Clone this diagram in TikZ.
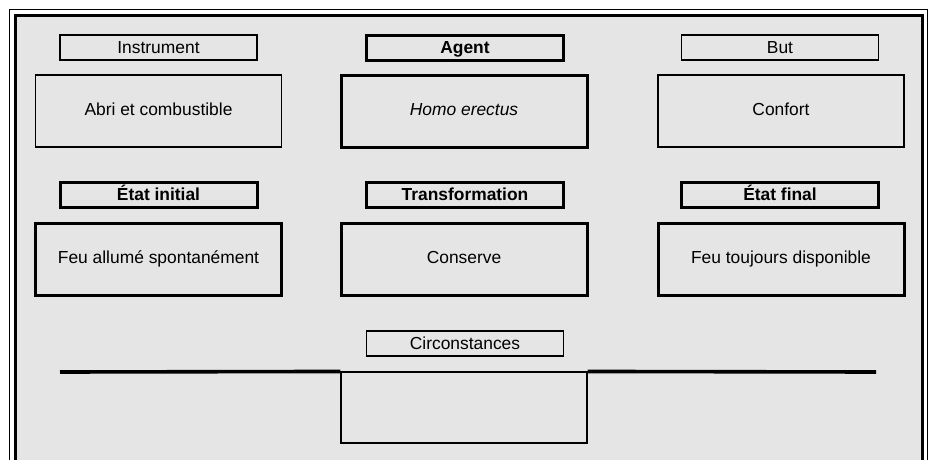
\documentclass[tikz,border=0pt]{standalone}
\usepackage{fontspec}
\setmainfont{Liberation Sans}
\definecolor{bggray}{HTML}{E5E5E5}
\begin{document}
\begin{tikzpicture}[x=1pt,y=-1pt,
  every node/.style={font=\fontsize{17.4}{20}\selectfont, inner sep=0pt, text=black},
  thinbox/.style={draw=black, line width=1.1pt, fill=bggray, rectangle},
  thickbox/.style={draw=black, line width=3pt, fill=bggray, rectangle},
  lbl/.style={minimum width=197pt, minimum height=25pt, text height=13.2pt, text depth=1.6pt},
  big/.style={minimum width=246pt, minimum height=72pt, text height=12.5pt, text depth=3.9pt},
  hline/.style={line width=3.6pt, draw=black}
]
\useasboundingbox (0,0) rectangle (932,459);
\fill[white] (0,0) rectangle (932,459);
% frame
\draw[line width=1pt, black] (9.8,475) -- (9.8,9.8) -- (927.5,9.8) -- (927.5,475);
\draw[line width=3pt, black, fill=bggray] (15.3,480) -- (15.3,15.3) -- (922.5,15.3) -- (922.5,480);
% row 1
\node[thinbox, lbl] (instr) at (158.5,47.5) {Instrument};
\node[thickbox, lbl] (agent) at (465,47.5) {\textbf{Agent}};
\node[thinbox, lbl] (but) at (780,47.5) {But};
\node[thinbox, big] (abri) at (158.5,111) {Abri et combustible};
\node[thickbox, big] (homo) at (464,111) {\itshape Homo erectus};
\node[thinbox, big] (confort) at (781,111) {Confort};
% row 2
\node[thickbox, lbl] (einit) at (158.5,195) {\textbf{État initial}};
\node[thickbox, lbl] (transf) at (465,195) {\textbf{Transformation}};
\node[thickbox, lbl] (efinal) at (780,195) {\textbf{État final}};
\node[thickbox, big] (feu1) at (158.5,259) {Feu allumé spontanément};
\node[thickbox, big] (conserve) at (464,259) {Conserve};
\node[thickbox, big] (feu2) at (781,259) {Feu toujours disponible};
% circumstances
\node[thinbox, lbl] (circ) at (465,343.5) {Circonstances};
\node[thinbox, minimum width=246pt, minimum height=71pt] (cbox) at (464,407.5) {};
\coordinate (lineL) at (60,372);
\coordinate (lineR) at (876,372);
\draw[hline] (lineL) -- (cbox.north west);
\draw[hline] (cbox.north east) -- (lineR);
\end{tikzpicture}
\end{document}
